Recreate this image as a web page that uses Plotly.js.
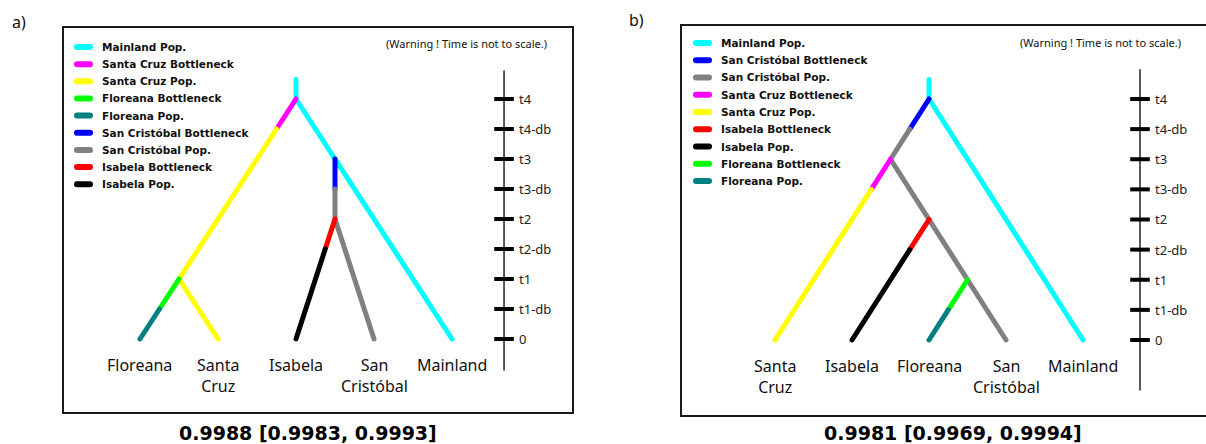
<!DOCTYPE html>
<html><head><meta charset="utf-8">
<script src="https://cdn.plot.ly/plotly-3.0.1.min.js"></script>
<style>
html,body{margin:0;padding:0;background:#fff}
#chart{width:1206px;height:444px}
.scatterlayer .js-line{stroke-linecap:round;stroke-linejoin:round}
.shapelayer path{stroke-linecap:round}
</style>
</head><body><div id="chart"></div>
<script>
// ---- data ----
const timeLabels = ['0','t1-db','t1','t2-db','t2','t3-db','t3','t4-db','t4'];
const timeLevels = [0,1,2,3,4,5,6,7,8];

// Panel a
const popsA = ['Mainland Pop.','Santa Cruz Bottleneck','Santa Cruz Pop.','Floreana Bottleneck','Floreana Pop.','San Cristóbal Bottleneck','San Cristóbal Pop.','Isabela Bottleneck','Isabela Pop.'];
const branchXA = [[2,2,4],[2,1.75],[1.75,0.5,1],[0.5,0.25],[0.25,0],[2.5,2.5],[2.5,2.5,3],[2.5,2.375],[2.375,2]];
const branchYA = [[8.65,8,0],[8,7],[7,2,0],[2,1],[1,0],[6,5],[5,4,0],[4,3],[3,0]];
const tipsA = ['Floreana','Santa<br>Cruz','Isabela','San<br>Cristóbal','Mainland'];
const tipPosA = [0,1,2,3,4];
const scoreA = '0.9988 [0.9983, 0.9993]';

// Panel b
const popsB = ['Mainland Pop.','San Cristóbal Bottleneck','San Cristóbal Pop.','Santa Cruz Bottleneck','Santa Cruz Pop.','Isabela Bottleneck','Isabela Pop.','Floreana Bottleneck','Floreana Pop.'];
const branchXB = [[2,2,4],[2,1.75],[1.75,1.5,3],[1.5,1.25],[1.25,0],[2,1.75],[1.75,1],[2.5,2.25],[2.25,2]];
const branchYB = [[8.65,8,0],[8,7],[7,6,0],[6,5],[5,0],[4,3],[3,0],[2,1],[1,0]];
const tipsB = ['Santa<br>Cruz','Isabela','Floreana','San<br>Cristóbal','Mainland'];
const tipPosB = [0,1,2,3,4];
const scoreB = '0.9981 [0.9969, 0.9994]';

const warningText = '(Warning ! Time is not to scale.)';

// ---- styles ----
const popColors = {
  'Mainland Pop.':'#00FFFF','Santa Cruz Bottleneck':'#FF00FF','Santa Cruz Pop.':'#FFFF00',
  'Floreana Bottleneck':'#00FF00','Floreana Pop.':'#008080','San Cristóbal Bottleneck':'#0000FF',
  'San Cristóbal Pop.':'#808080','Isabela Bottleneck':'#FF0000','Isabela Pop.':'#000000'
};
const W = 1206, H = 444;
const px = v => v / W, py = v => 1 - v / H;
const labelFont = {family:'Noto Sans, Open Sans, sans-serif', size:16, color:'#111'};
const tickFont = {family:'Noto Sans, Open Sans, sans-serif', size:13, color:'#222'};
const legFont = {family:'DejaVu Sans, sans-serif', size:10.5, color:'#111', weight:'bold'};

const panels = [
  {pops:popsA, bx:branchXA, by:branchYA, tips:tipsA, tipPos:tipPosA, score:scoreA,
   xa:'x', ya:'y', axisX:4.667, axisY:[8.93,-1.03], tipLevel:-0.42,
   legX0:74, legX1:93, legTx:100, legY0:47, legDy:17.15, warnX:549, warnY:43,
   box:[63,573,27,413], scoreX:308, scoreY:433, tag:'a)', tagX:19, tagY:22},
  {pops:popsB, bx:branchXB, by:branchYB, tips:tipsB, tipPos:tipPosB, score:scoreB,
   xa:'x2', ya:'y2', axisX:4.74, axisY:[8.97,-1.66], tipLevel:-0.42,
   legX0:693, legX1:712, legTx:719, legY0:43, legDy:17.25, warnX:1183, warnY:42,
   box:[681,1215,25,416], scoreX:953, scoreY:433, tag:'b)', tagX:636, tagY:20}
];

const traces = [], annotations = [], shapes = [];
panels.forEach(p => {
  // branches
  p.pops.forEach((name, i) => {
    traces.push({type:'scatter', mode:'lines', x:p.bx[i], y:p.by[i], xaxis:p.xa, yaxis:p.ya,
      line:{color:popColors[name], width:5}, name:name, showlegend:false, hoverinfo:'skip'});
  });
  // time axis line
  traces.push({type:'scatter', mode:'lines', x:[p.axisX,p.axisX], y:p.axisY, xaxis:p.xa, yaxis:p.ya,
    line:{color:'#222', width:1.5}, showlegend:false, hoverinfo:'skip'});
  // time ticks
  traces.push({type:'scatter', mode:'markers', x:timeLevels.map(()=>p.axisX), y:timeLevels, xaxis:p.xa, yaxis:p.ya,
    marker:{symbol:'line-ew', size:14, line:{color:'#000', width:4}}, showlegend:false, hoverinfo:'skip'});
  timeLabels.forEach((t, i) => {
    annotations.push({xref:p.xa, yref:p.ya, x:p.axisX, y:timeLevels[i], text:t, showarrow:false,
      xanchor:'left', yanchor:'middle', xshift:13, font:tickFont});
  });
  // tip labels
  p.tips.forEach((t, i) => {
    annotations.push({xref:p.xa, yref:p.ya, x:p.tipPos[i], y:p.tipLevel, text:t, showarrow:false,
      xanchor:'center', yanchor:'top', align:'center', font:labelFont});
  });
  // legend (manual)
  p.pops.forEach((name, i) => {
    const yy = p.legY0 + i * p.legDy;
    shapes.push({type:'line', xref:'paper', yref:'paper', x0:px(p.legX0+3), x1:px(p.legX1-3), y0:py(yy), y1:py(yy),
      line:{color:popColors[name], width:6}});
    annotations.push({xref:'paper', yref:'paper', x:px(p.legTx), y:py(yy), text:name, showarrow:false,
      xanchor:'left', yanchor:'middle', font:legFont});
  });
  // warning
  annotations.push({xref:'paper', yref:'paper', x:px(p.warnX), y:py(p.warnY), text:warningText, showarrow:false,
    xanchor:'right', yanchor:'middle', font:{family:'Noto Sans, sans-serif', size:11, color:'#111'}});
  // box
  shapes.push({type:'rect', xref:'paper', yref:'paper', x0:px(p.box[0]), x1:px(p.box[1]), y0:py(p.box[3]), y1:py(p.box[2]),
    line:{color:'#1a1a1a', width:2}});
  // score
  annotations.push({xref:'paper', yref:'paper', x:px(p.scoreX), y:py(p.scoreY), text:p.score, showarrow:false,
    xanchor:'center', yanchor:'middle', font:{family:'DejaVu Sans, sans-serif', size:19, color:'#000', weight:'bold'}});
  // panel tag
  annotations.push({xref:'paper', yref:'paper', x:px(p.tagX), y:py(p.tagY), text:p.tag, showarrow:false,
    xanchor:'center', yanchor:'middle', font:{family:'Noto Sans, sans-serif', size:16, color:'#111'}});
});

const hidden = {visible:false, fixedrange:true};
const layout = {
  width:W, height:H, margin:{l:0,r:0,t:0,b:0}, paper_bgcolor:'#fff', plot_bgcolor:'rgba(0,0,0,0)',
  showlegend:false,
  xaxis:Object.assign({domain:[px(63), px(573)], range:[-0.987, 5.551]}, hidden),
  yaxis:Object.assign({domain:[py(413), py(27)], range:[-2.467, 10.4]}, hidden),
  xaxis2:Object.assign({domain:[px(681), 1], range:[-1.221, 5.597], anchor:'y2'}, hidden),
  yaxis2:Object.assign({domain:[py(416), py(25)], range:[-2.523, 10.456], anchor:'x2'}, hidden),
  annotations:annotations, shapes:shapes
};
Plotly.newPlot('chart', traces, layout, {displayModeBar:false, staticPlot:true});
</script></body></html>
